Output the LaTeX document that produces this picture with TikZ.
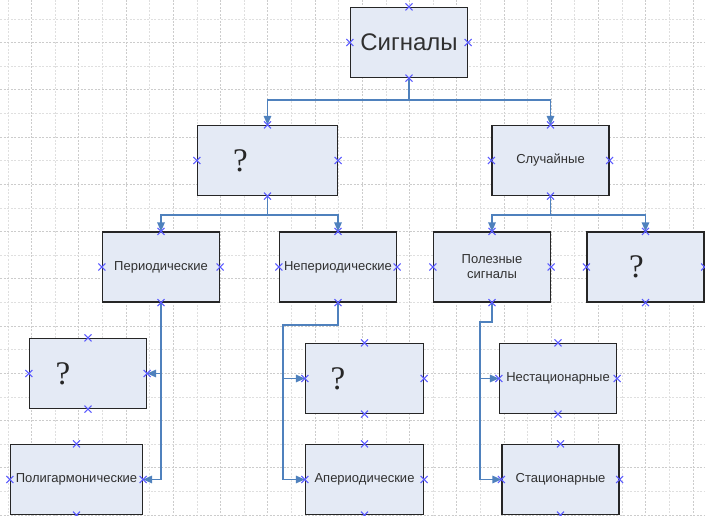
\documentclass[tikz,border=0pt]{standalone}
\usepackage{fontspec}
\setmainfont{Liberation Sans}
\newfontfamily\qfont{Liberation Serif}
\usetikzlibrary{arrows.meta,shapes.misc}
\definecolor{boxfill}{RGB}{228,234,245}
\definecolor{connblue}{RGB}{79,129,189}
\definecolor{markblue}{RGB}{90,90,255}
\definecolor{textgray}{RGB}{48,48,48}
\tikzset{blockbox/.style={draw=black!85,line width=1.2pt,fill=boxfill,rectangle,minimum width=117pt,minimum height=70pt,inner sep=0,text=textgray,font=\fontsize{13}{15}\selectfont,align=center},
    conn/.style={draw=connblue,line width=1.4pt,-{Triangle[length=9pt,width=7.5pt]}},
    pinmark/.style={cross out,draw=markblue,line width=1pt,minimum size=6pt,inner sep=0},
    gridminor/.style={gray!25,dash pattern=on 2pt off 1.5pt,line width=0.8pt},
    gridmajor/.style={gray!40,dash pattern=on 2pt off 1.5pt,line width=0.8pt}
}
\newcommand{\askmark}[1]
{%
% args: (gap right of the mark, shifts it left by half)
    {\qfont\fontsize{33}{33}\selectfont\color{black!85}?}\hspace*{#1}%
}
\begin{document}
\begin{tikzpicture}[x=1pt,y=-1pt]

\useasboundingbox (0,0) rectangle (705,516);
\clip (0,0) rectangle (705,516);

% background grid
\foreach \i in {0,2,...,28}
    \draw [gridminor] (8+23.62*\i,0) -- (8+23.62*\i,516);
\foreach \i in {1,3,...,29}
    \draw [gridmajor] (8+23.62*\i,0) -- (8+23.62*\i,516);
\foreach \j in {0,2,...,20}
    \draw [gridminor] (0,19+23.62*\j) -- (705,19+23.62*\j);
\foreach \j in {1,3,...,21}
    \draw [gridmajor] (0,19+23.62*\j) -- (705,19+23.62*\j);

\node (sig) [blockbox,font=\fontsize{24}{28}\selectfont] at (409,42.5) {Сигналы};

\node (q1) [blockbox,minimum width=140pt] at (267.5,160.5) {\askmark{54pt}};
\node (rnd) [blockbox] at (550.5,160.5) {Случайные};

\node (per) [blockbox] at (161,267) {Периодические};
\node (nep) [blockbox] at (338,267) {Непериодические};
\node (use) [blockbox] at (492,267) {Полезные\\сигналы};
\node (q2) [blockbox] at (645.5,267) {\askmark{18pt}};

\node (q3) [blockbox] at (88,373.5) {\askmark{50pt}};
\node (poly) [blockbox,minimum width=132pt] at (76.5,479.5) {Полигармонические};

\node (q4) [blockbox,minimum width=118pt] at (364.5,378.5) {\askmark{53pt}};
\node (aper) [blockbox,minimum width=118pt] at (364.5,479.5) {Апериодические};

\node (nst) [blockbox] at (558,378.5) {Нестационарные};
\node (st) [blockbox] at (560.5,479.5) {Стационарные};

\coordinate (nepbus) at (283,325);
\coordinate (usebus) at (480,322);

\draw [conn] (sig.south) -- ++(0,22) -| (q1.north);
\draw [conn] (sig.south) -- ++(0,22) -| (rnd.north);

\draw [conn] (q1.south) -- ++(0,19) -| (per.north);
\draw [conn] (q1.south) -- ++(0,19) -| (nep.north);

\draw [conn] (rnd.south) -- ++(0,19) -| (use.north);
\draw [conn] (rnd.south) -- ++(0,19) -| (q2.north);

\draw [conn] (per.south) |- (q3.east);
\draw [conn] (per.south) |- (poly.east);

\draw [conn] (nep.south) |- (nepbus) |- (q4.west);
\draw [conn] (nep.south) |- (nepbus) |- (aper.west);

\draw [conn] (use.south) |- (usebus) |- (nst.west);
\draw [conn] (use.south) |- (usebus) |- (st.west);

\foreach \n in {sig,q1,rnd,per,nep,use,q2,q3,poly,q4,aper,nst,st}
    \foreach \a in {north,south,east,west}
        \node [pinmark] at (\n.\a) {};

\end{tikzpicture}
\end{document}
